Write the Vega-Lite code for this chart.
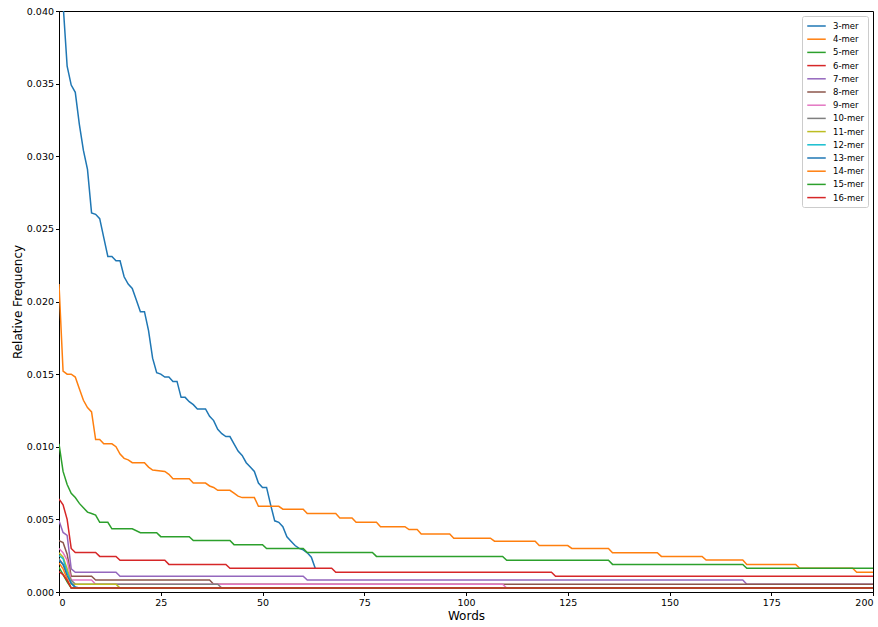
{
  "$schema": "https://vega.github.io/schema/vega-lite/v6.json",
  "width": 814,
  "height": 581,
  "autosize": {"type": "none"},
  "padding": {"left": 59, "top": 11, "right": 5, "bottom": 35},
  "background": "white",
  "config": {
    "view": {"stroke": "black", "strokeWidth": 1},
    "font": "DejaVu Sans",
    "axis": {
      "labelFont": "DejaVu Sans", "labelFontSize": 9.5, "labelColor": "black",
      "titleFont": "DejaVu Sans", "titleFontSize": 12, "titleFontWeight": "normal", "titleColor": "black",
      "domainColor": "black", "tickColor": "black", "tickSize": 3.5, "labelPadding": 2, "grid": false
    },
    "legend": {
      "orient": "top-right", "offset": 5, "padding": 4,
      "strokeColor": "#cccccc", "fillColor": "rgba(255,255,255,0.8)", "cornerRadius": 2,
      "labelFont": "DejaVu Sans", "labelFontSize": 8.5, "labelColor": "black",
      "symbolType": "M-1.85,0H1.85", "symbolSize": 100, "symbolStrokeWidth": 1.5,
      "symbolOffset": 4.5, "labelOffset": 10.5, "rowPadding": 2.2
    }
  },
  "data": {"values": [
    {"k":"3-mer","x":0,"y":0.052},{"k":"3-mer","x":1,"y":0.0405},{"k":"3-mer","x":2,"y":0.0362},{"k":"3-mer","x":3,"y":0.0349},{"k":"3-mer","x":4,"y":0.0344},{"k":"3-mer","x":5,"y":0.0322},{"k":"3-mer","x":6,"y":0.0304},{"k":"3-mer","x":7,"y":0.0291},{"k":"3-mer","x":8,"y":0.0261},{"k":"3-mer","x":9,"y":0.026},{"k":"3-mer","x":10,"y":0.0257},{"k":"3-mer","x":11,"y":0.0244},{"k":"3-mer","x":12,"y":0.0231},{"k":"3-mer","x":13,"y":0.0231},{"k":"3-mer","x":14,"y":0.0228},{"k":"3-mer","x":15,"y":0.0228},{"k":"3-mer","x":16,"y":0.0217},{"k":"3-mer","x":17,"y":0.0212},{"k":"3-mer","x":18,"y":0.0209},{"k":"3-mer","x":19,"y":0.0201},{"k":"3-mer","x":20,"y":0.0193},{"k":"3-mer","x":21,"y":0.0193},{"k":"3-mer","x":22,"y":0.018},{"k":"3-mer","x":23,"y":0.0161},{"k":"3-mer","x":24,"y":0.0151},{"k":"3-mer","x":25,"y":0.015},{"k":"3-mer","x":26,"y":0.0148},{"k":"3-mer","x":27,"y":0.0148},{"k":"3-mer","x":28,"y":0.0145},{"k":"3-mer","x":29,"y":0.0145},{"k":"3-mer","x":30,"y":0.0134},{"k":"3-mer","x":31,"y":0.0134},{"k":"3-mer","x":32,"y":0.0131},{"k":"3-mer","x":33,"y":0.0129},{"k":"3-mer","x":34,"y":0.0126},{"k":"3-mer","x":35,"y":0.0126},{"k":"3-mer","x":36,"y":0.0126},{"k":"3-mer","x":37,"y":0.0121},{"k":"3-mer","x":38,"y":0.0118},{"k":"3-mer","x":39,"y":0.0112},{"k":"3-mer","x":40,"y":0.0109},{"k":"3-mer","x":41,"y":0.0107},{"k":"3-mer","x":42,"y":0.0107},{"k":"3-mer","x":43,"y":0.0102},{"k":"3-mer","x":44,"y":0.0097},{"k":"3-mer","x":45,"y":0.0094},{"k":"3-mer","x":46,"y":0.0089},{"k":"3-mer","x":47,"y":0.0086},{"k":"3-mer","x":48,"y":0.0083},{"k":"3-mer","x":49,"y":0.0075},{"k":"3-mer","x":50,"y":0.0072},{"k":"3-mer","x":51,"y":0.0072},{"k":"3-mer","x":52,"y":0.006},{"k":"3-mer","x":53,"y":0.0049},{"k":"3-mer","x":54,"y":0.0048},{"k":"3-mer","x":55,"y":0.0045},{"k":"3-mer","x":56,"y":0.0038},{"k":"3-mer","x":57,"y":0.0035},{"k":"3-mer","x":58,"y":0.0032},{"k":"3-mer","x":59,"y":0.003},{"k":"3-mer","x":60,"y":0.0029},{"k":"3-mer","x":61,"y":0.0027},{"k":"3-mer","x":62,"y":0.0024},{"k":"3-mer","x":63,"y":0.0016},
    {"k":"4-mer","x":0,"y":0.0212},{"k":"4-mer","x":1,"y":0.0152},{"k":"4-mer","x":2,"y":0.015},{"k":"4-mer","x":3,"y":0.015},{"k":"4-mer","x":4,"y":0.0148},{"k":"4-mer","x":5,"y":0.014},{"k":"4-mer","x":6,"y":0.0132},{"k":"4-mer","x":7,"y":0.0127},{"k":"4-mer","x":8,"y":0.0124},{"k":"4-mer","x":9,"y":0.0105},{"k":"4-mer","x":10,"y":0.0105},{"k":"4-mer","x":11,"y":0.0102},{"k":"4-mer","x":13,"y":0.0102},{"k":"4-mer","x":14,"y":0.01},{"k":"4-mer","x":15,"y":0.0095},{"k":"4-mer","x":16,"y":0.0092},{"k":"4-mer","x":17,"y":0.0091},{"k":"4-mer","x":18,"y":0.0089},{"k":"4-mer","x":21,"y":0.0089},{"k":"4-mer","x":22,"y":0.0086},{"k":"4-mer","x":23,"y":0.0084},{"k":"4-mer","x":26,"y":0.0083},{"k":"4-mer","x":27,"y":0.0081},{"k":"4-mer","x":28,"y":0.0078},{"k":"4-mer","x":32,"y":0.0078},{"k":"4-mer","x":33,"y":0.0075},{"k":"4-mer","x":36,"y":0.0075},{"k":"4-mer","x":37,"y":0.0073},{"k":"4-mer","x":38,"y":0.0072},{"k":"4-mer","x":39,"y":0.007},{"k":"4-mer","x":42,"y":0.007},{"k":"4-mer","x":43,"y":0.0068},{"k":"4-mer","x":44,"y":0.0066},{"k":"4-mer","x":45,"y":0.0065},{"k":"4-mer","x":48,"y":0.0065},{"k":"4-mer","x":49,"y":0.0059},{"k":"4-mer","x":54,"y":0.0059},{"k":"4-mer","x":55,"y":0.0057},{"k":"4-mer","x":60,"y":0.0057},{"k":"4-mer","x":61,"y":0.0054},{"k":"4-mer","x":68,"y":0.0054},{"k":"4-mer","x":69,"y":0.0051},{"k":"4-mer","x":72,"y":0.0051},{"k":"4-mer","x":73,"y":0.0048},{"k":"4-mer","x":78,"y":0.0048},{"k":"4-mer","x":79,"y":0.0045},{"k":"4-mer","x":85,"y":0.0045},{"k":"4-mer","x":86,"y":0.0043},{"k":"4-mer","x":88,"y":0.0043},{"k":"4-mer","x":89,"y":0.004},{"k":"4-mer","x":96,"y":0.004},{"k":"4-mer","x":97,"y":0.0037},{"k":"4-mer","x":106,"y":0.0037},{"k":"4-mer","x":107,"y":0.0035},{"k":"4-mer","x":117,"y":0.0035},{"k":"4-mer","x":118,"y":0.0032},{"k":"4-mer","x":125,"y":0.0032},{"k":"4-mer","x":126,"y":0.003},{"k":"4-mer","x":135,"y":0.003},{"k":"4-mer","x":136,"y":0.0027},{"k":"4-mer","x":147,"y":0.0027},{"k":"4-mer","x":148,"y":0.00245},{"k":"4-mer","x":158,"y":0.00245},{"k":"4-mer","x":159,"y":0.0022},{"k":"4-mer","x":168,"y":0.0022},{"k":"4-mer","x":169,"y":0.0019},{"k":"4-mer","x":181,"y":0.0019},{"k":"4-mer","x":182,"y":0.00163},{"k":"4-mer","x":195,"y":0.00163},{"k":"4-mer","x":196,"y":0.00136},{"k":"4-mer","x":200,"y":0.00136},
    {"k":"5-mer","x":0,"y":0.0102},{"k":"5-mer","x":1,"y":0.0083},{"k":"5-mer","x":2,"y":0.0074},{"k":"5-mer","x":3,"y":0.0068},{"k":"5-mer","x":4,"y":0.0065},{"k":"5-mer","x":5,"y":0.0061},{"k":"5-mer","x":6,"y":0.0058},{"k":"5-mer","x":7,"y":0.0055},{"k":"5-mer","x":8,"y":0.0054},{"k":"5-mer","x":9,"y":0.0053},{"k":"5-mer","x":10,"y":0.0048},{"k":"5-mer","x":12,"y":0.0048},{"k":"5-mer","x":13,"y":0.00435},{"k":"5-mer","x":18,"y":0.00435},{"k":"5-mer","x":20,"y":0.00408},{"k":"5-mer","x":24,"y":0.00408},{"k":"5-mer","x":25,"y":0.00381},{"k":"5-mer","x":32,"y":0.00381},{"k":"5-mer","x":33,"y":0.00354},{"k":"5-mer","x":42,"y":0.00354},{"k":"5-mer","x":43,"y":0.00326},{"k":"5-mer","x":50,"y":0.00326},{"k":"5-mer","x":51,"y":0.00299},{"k":"5-mer","x":60,"y":0.00299},{"k":"5-mer","x":61,"y":0.00272},{"k":"5-mer","x":77,"y":0.00272},{"k":"5-mer","x":78,"y":0.00245},{"k":"5-mer","x":109,"y":0.00245},{"k":"5-mer","x":110,"y":0.00218},{"k":"5-mer","x":135,"y":0.00218},{"k":"5-mer","x":136,"y":0.0019},{"k":"5-mer","x":168,"y":0.0019},{"k":"5-mer","x":169,"y":0.00163},{"k":"5-mer","x":200,"y":0.00163},
    {"k":"6-mer","x":0,"y":0.0064},{"k":"6-mer","x":1,"y":0.006},{"k":"6-mer","x":2,"y":0.005},{"k":"6-mer","x":3,"y":0.003},{"k":"6-mer","x":4,"y":0.00272},{"k":"6-mer","x":9,"y":0.00272},{"k":"6-mer","x":10,"y":0.00245},{"k":"6-mer","x":14,"y":0.00245},{"k":"6-mer","x":15,"y":0.00218},{"k":"6-mer","x":26,"y":0.00218},{"k":"6-mer","x":27,"y":0.0019},{"k":"6-mer","x":41,"y":0.0019},{"k":"6-mer","x":42,"y":0.00163},{"k":"6-mer","x":67,"y":0.00163},{"k":"6-mer","x":68,"y":0.00136},{"k":"6-mer","x":121,"y":0.00136},{"k":"6-mer","x":122,"y":0.00109},{"k":"6-mer","x":200,"y":0.00109},
    {"k":"7-mer","x":0,"y":0.0049},{"k":"7-mer","x":1,"y":0.0041},{"k":"7-mer","x":2,"y":0.0039},{"k":"7-mer","x":3,"y":0.0016},{"k":"7-mer","x":4,"y":0.00136},{"k":"7-mer","x":14,"y":0.00136},{"k":"7-mer","x":15,"y":0.00109},{"k":"7-mer","x":60,"y":0.00109},{"k":"7-mer","x":61,"y":0.00082},{"k":"7-mer","x":168,"y":0.00082},{"k":"7-mer","x":169,"y":0.00054},{"k":"7-mer","x":200,"y":0.00054},
    {"k":"8-mer","x":0,"y":0.00354},{"k":"8-mer","x":1,"y":0.0034},{"k":"8-mer","x":2,"y":0.0026},{"k":"8-mer","x":3,"y":0.00109},{"k":"8-mer","x":8,"y":0.00109},{"k":"8-mer","x":9,"y":0.00082},{"k":"8-mer","x":37,"y":0.00082},{"k":"8-mer","x":38,"y":0.00054},{"k":"8-mer","x":200,"y":0.00054},
    {"k":"9-mer","x":0,"y":0.003},{"k":"9-mer","x":1,"y":0.0027},{"k":"9-mer","x":2,"y":0.0022},{"k":"9-mer","x":3,"y":0.00082},{"k":"9-mer","x":8,"y":0.00082},{"k":"9-mer","x":9,"y":0.00054},{"k":"9-mer","x":109,"y":0.00054},{"k":"9-mer","x":110,"y":0.00027},{"k":"9-mer","x":200,"y":0.00027},
    {"k":"10-mer","x":0,"y":0.0023},{"k":"10-mer","x":1,"y":0.0019},{"k":"10-mer","x":2,"y":0.0014},{"k":"10-mer","x":3,"y":0.0008},{"k":"10-mer","x":4,"y":0.00054},{"k":"10-mer","x":39,"y":0.00054},{"k":"10-mer","x":40,"y":0.00027},{"k":"10-mer","x":200,"y":0.00027},
    {"k":"11-mer","x":0,"y":0.0027},{"k":"11-mer","x":1,"y":0.0024},{"k":"11-mer","x":2,"y":0.0016},{"k":"11-mer","x":3,"y":0.00054},{"k":"11-mer","x":14,"y":0.00054},{"k":"11-mer","x":15,"y":0.00027},{"k":"11-mer","x":200,"y":0.00027},
    {"k":"12-mer","x":0,"y":0.0025},{"k":"12-mer","x":1,"y":0.0023},{"k":"12-mer","x":2,"y":0.0013},{"k":"12-mer","x":3,"y":0.0006},{"k":"12-mer","x":4,"y":0.00027},{"k":"12-mer","x":200,"y":0.00027},
    {"k":"13-mer","x":0,"y":0.0022},{"k":"13-mer","x":1,"y":0.0019},{"k":"13-mer","x":2,"y":0.0011},{"k":"13-mer","x":3,"y":0.0006},{"k":"13-mer","x":4,"y":0.00035},{"k":"13-mer","x":5,"y":0.00027},{"k":"13-mer","x":200,"y":0.00027},
    {"k":"14-mer","x":0,"y":0.002},{"k":"14-mer","x":1,"y":0.0016},{"k":"14-mer","x":2,"y":0.0009},{"k":"14-mer","x":3,"y":0.00027},{"k":"14-mer","x":200,"y":0.00027},
    {"k":"15-mer","x":0,"y":0.0017},{"k":"15-mer","x":1,"y":0.0012},{"k":"15-mer","x":2,"y":0.0007},{"k":"15-mer","x":3,"y":0.00027},{"k":"15-mer","x":200,"y":0.00027},
    {"k":"16-mer","x":0,"y":0.0014},{"k":"16-mer","x":1,"y":0.0012},{"k":"16-mer","x":2,"y":0.0008},{"k":"16-mer","x":3,"y":0.00027},{"k":"16-mer","x":200,"y":0.00027}
  ]},
  "mark": {"type": "line", "strokeWidth": 1.5, "clip": true},
  "encoding": {
    "x": {"field": "x", "type": "quantitative", "title": "Words",
      "scale": {"domain": [0, 200], "nice": false, "zero": false},
      "axis": {"values": [0, 25, 50, 75, 100, 125, 150, 175, 200], "titlePadding": 3}},
    "y": {"field": "y", "type": "quantitative", "title": "Relative Frequency",
      "scale": {"domain": [0, 0.04], "nice": false},
      "axis": {"values": [0, 0.005, 0.01, 0.015, 0.02, 0.025, 0.03, 0.035, 0.04], "format": ".3f", "titlePadding": 2}},
    "color": {"field": "k", "type": "nominal", "title": null,
      "scale": {
        "domain": ["3-mer","4-mer","5-mer","6-mer","7-mer","8-mer","9-mer","10-mer","11-mer","12-mer","13-mer","14-mer","15-mer","16-mer"],
        "range": ["#1f77b4","#ff7f0e","#2ca02c","#d62728","#9467bd","#8c564b","#e377c2","#7f7f7f","#bcbd22","#17becf","#1f77b4","#ff7f0e","#2ca02c","#d62728"]
      }}
  }
}
